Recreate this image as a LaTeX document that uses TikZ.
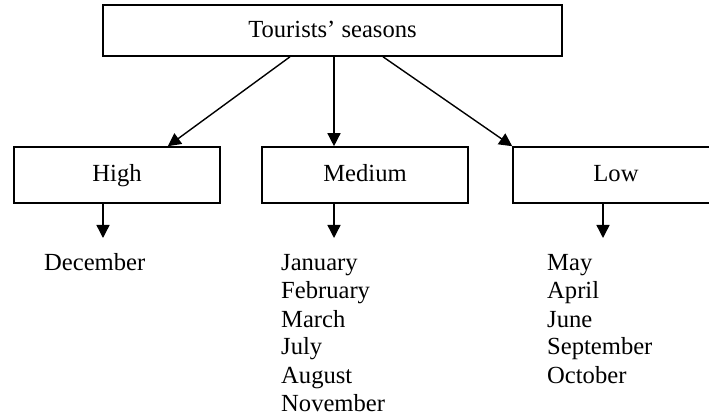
\documentclass[tikz,border=0pt]{standalone}
\usepackage{fontspec}
\setmainfont{Liberation Serif}
\usetikzlibrary{arrows.meta}
\tikzset{
  box/.style={draw, line width=1.6pt, minimum width=206pt, minimum height=56pt, inner sep=0pt, text height=17pt, text depth=3pt},
  month/.style={anchor=base west, inner sep=0pt}
}
\begin{document}
\begin{tikzpicture}[x=1pt, y=-1pt, font=\fontsize{24.6}{28}\selectfont, line join=miter, >={Triangle[width=13pt,length=13pt]}]
			\useasboundingbox (0,0) rectangle (709,419);
			\clip (0,0) rectangle (709,419);
			\node[box, minimum width=459pt, minimum height=51pt] (top) at (332.5,30.5) {Tourists' seasons};
			\node[box] (high) at (117,175) {High};
			\node[box] (medium) at (365,175) {Medium};
			\node[box] (low) at (616,175) {Low};
			\draw[->, line width=1.4pt] ([xshift=-42.5pt]top.south) -- ([xshift=-53pt]high.north east);
			\draw[->, line width=1.4pt] ([xshift=1.5pt]top.south) -- ([xshift=-31pt]medium.north);
			\draw[->, line width=1.4pt] ([xshift=50.5pt]top.south) -- (low.north west);
			\coordinate (high-end) at (103,238);
			\coordinate (medium-end) at (334,238);
			\coordinate (low-end) at (603,238);
			\draw[->, line width=1.4pt] (high.south -| high-end) -- (high-end);
			\draw[->, line width=1.4pt] (medium.south -| medium-end) -- (medium-end);
			\draw[->, line width=1.4pt] (low.south -| low-end) -- (low-end);
			\node[month] (dec) at (44,271) {December};
			\foreach \m [count=\i] in {January,February,March,July,August,November}
				\node[month] (med-\i) at (281,243+28*\i) {\m};
			\foreach \m [count=\i] in {May,April,June,September,October}
				\node[month] (low-\i) at (547,243+28*\i) {\m};
		\end{tikzpicture}
\end{document}
